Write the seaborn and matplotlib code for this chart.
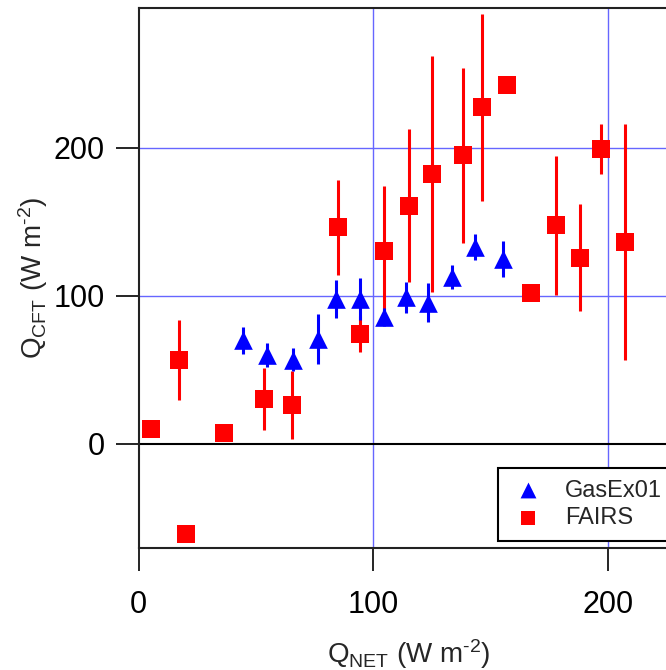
import matplotlib
matplotlib.use("Agg")
import matplotlib.pyplot as plt
import seaborn as sns

# GasEx01 (blue triangles)
gasex_qnet = [44.7, 54.6, 66.0, 76.3, 84.1, 94.2, 104.5, 114.0, 123.5, 133.4, 143.4, 155.2]
gasex_qcft = [70.0, 60.0, 57.0, 71.0, 98.0, 98.0, 86.0, 99.0, 95.5, 113.0, 133.0, 125.0]
gasex_err = [9, 8, 8, 17, 13, 14, 6, 10.5, 13, 8, 9, 12]

# FAIRS (red squares)
fairs_qnet = [5.5, 17.3, 20.2, 36.6, 53.6, 65.5, 84.9, 94.5, 104.6, 115.3, 125.2, 138.1,
              146.2, 157.1, 167.2, 178.0, 188.1, 197.2, 207.2]
fairs_qcft = [10.0, 56.5, -60.7, 7.6, 30.2, 26.3, 146.5, 74.3, 130.5, 161.0, 182.5, 195.0,
              227.5, 242.5, 101.7, 147.8, 126.0, 199.5, 136.5]
fairs_err = [0, 27, 0, 3, 21, 22.7, 32, 12, 44, 51.6, 80, 59,
             63, 0, 0, 47, 36, 17, 80]

sns.set_style("white")
plt.rcParams['font.family'] = ['Liberation Sans', 'DejaVu Sans']
plt.rcParams['mathtext.fontset'] = 'custom'
plt.rcParams['mathtext.rm'] = 'Liberation Sans'
plt.rcParams['mathtext.it'] = 'Liberation Sans:italic'
plt.rcParams['mathtext.bf'] = 'Liberation Sans:bold'
plt.rcParams['mathtext.default'] = 'regular'

W, H = 666, 670
fig = plt.figure(figsize=(W / 100, H / 100), dpi=100)
ax = fig.add_axes([138.5 / W, (H - 548) / H, (678.3 - 138.5) / W, 540 / H])

gridc = (0.4, 0.4, 1.0)
for v in [100, 200]:
    ax.axvline(v, color=gridc, lw=1.0, zorder=0)
    ax.axhline(v, color=gridc, lw=1.0, zorder=0)
ax.axhline(0, color='black', lw=1.5, zorder=1)

# FAIRS first so GasEx01 sits on top
ax.vlines(fairs_qnet, [y - e for y, e in zip(fairs_qcft, fairs_err)],
          [y + e for y, e in zip(fairs_qcft, fairs_err)], color='red', lw=2.2, zorder=2)
sns.scatterplot(x=fairs_qnet, y=fairs_qcft, marker='s', color='red', s=160,
                linewidth=0, label='FAIRS', ax=ax, zorder=3)
ax.vlines(gasex_qnet, [y - e for y, e in zip(gasex_qcft, gasex_err)],
          [y + e for y, e in zip(gasex_qcft, gasex_err)], color='blue', lw=2.2, zorder=4)
sns.scatterplot(x=gasex_qnet, y=gasex_qcft, marker='^', color='blue', s=180,
                linewidth=0, label='GasEx01', ax=ax, zorder=5)

ax.set_xlim(0, 230)
ax.set_ylim(-70.3, 294.6)
ax.set_xticks([0, 100, 200])
ax.set_yticks([0, 100, 200])
ax.tick_params(axis='both', direction='out', length=16.5, width=1.2,
               labelsize=22, color='black', labelcolor='black', pad=8)
ax.tick_params(axis='x', pad=14)
ax.tick_params(bottom=True, left=True)
for s in ['left', 'top', 'bottom']:
    ax.spines[s].set_color('#222222')
    ax.spines[s].set_linewidth(1.5)
ax.spines['right'].set_visible(False)

ax.set_xlabel(r'$Q_{NET}$ (W m$^{\text{-}2}$)', fontsize=20, labelpad=12)
ax.set_ylabel(r'$Q_{CFT}$ (W m$^{\text{-}2}$)', fontsize=20, labelpad=2)

handles, labels = ax.get_legend_handles_labels()
order = [labels.index('GasEx01'), labels.index('FAIRS')]
leg = ax.legend([handles[i] for i in order], [labels[i] for i in order],
                loc='upper left', bbox_to_anchor=(498 / W, 1 - 467.7 / H),
                bbox_transform=fig.transFigure, borderaxespad=0,
                fontsize=17, frameon=True, fancybox=False, framealpha=1,
                edgecolor='black', borderpad=0.5, labelspacing=0.25,
                handlelength=1.5, handletextpad=0.85, markerscale=0.85)
leg.get_frame().set_linewidth(1.5)
leg.set_zorder(10)

fig.savefig('out.png', dpi=100)
